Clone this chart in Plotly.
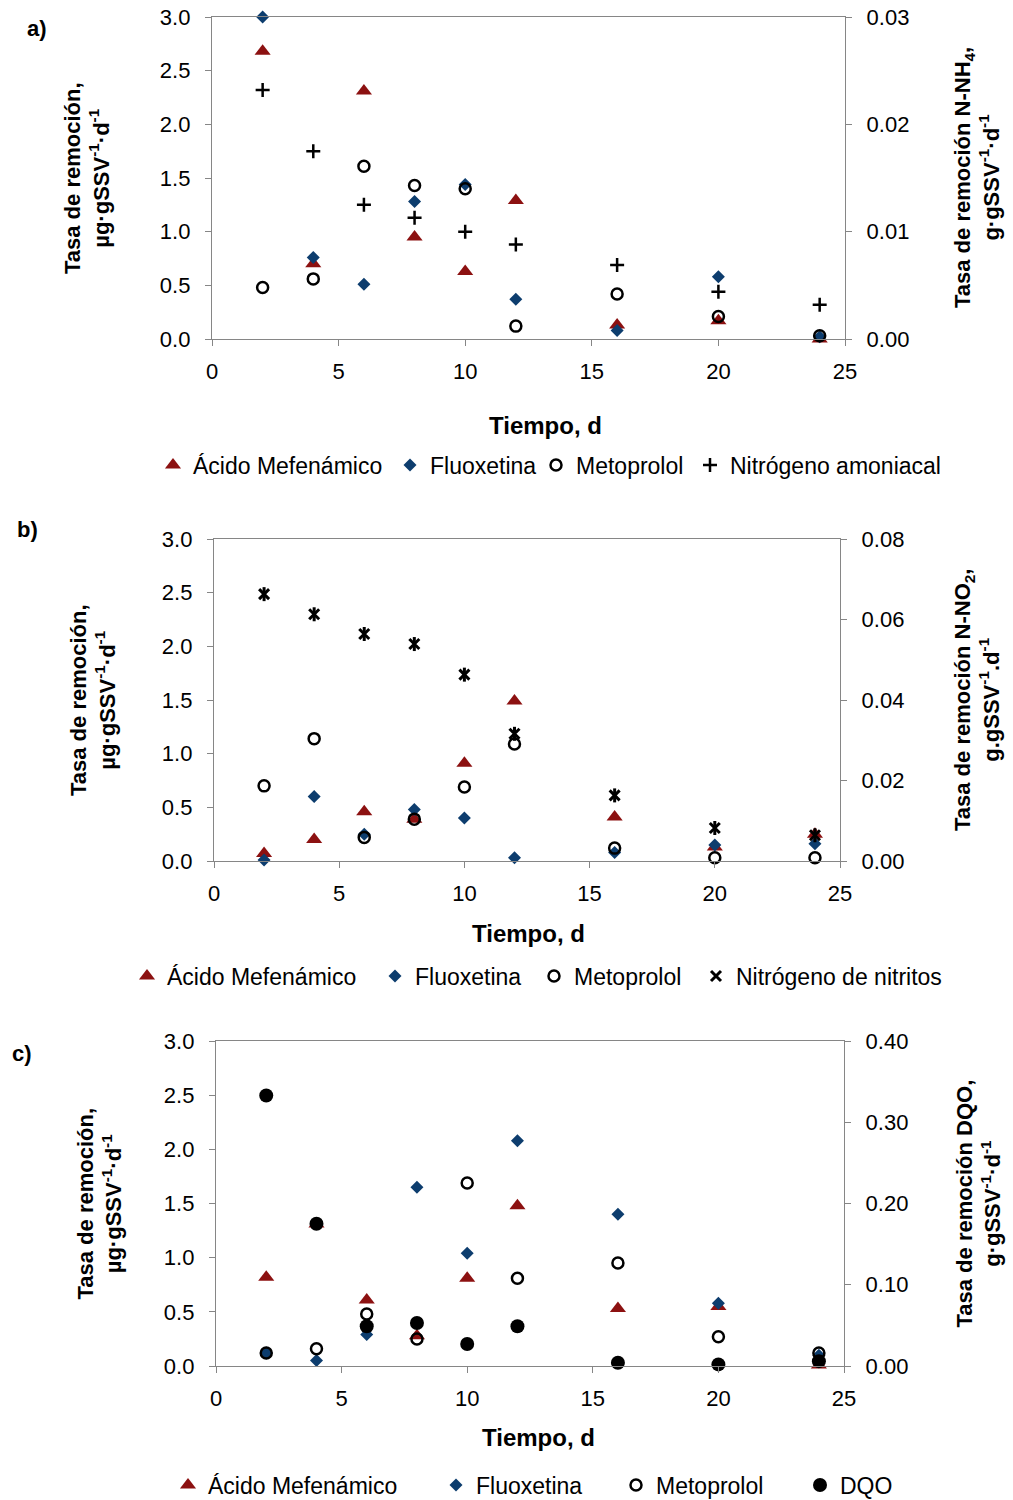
import plotly.graph_objects as go

W, H = 1013, 1500

# ---------------- data ----------------
days = [2, 4, 6, 8, 10, 12, 16, 20, 24]

# panel a
a_mef = [2.68, 0.70, 2.31, 0.95, 0.63, 1.29, 0.13, 0.17, 0.00]
a_flu = [3.00, 0.76, 0.51, 1.28, 1.44, 0.37, 0.08, 0.58, 0.02]
a_met = [0.48, 0.56, 1.61, 1.43, 1.40, 0.12, 0.42, 0.21, 0.03]
a_nh4 = [0.0232, 0.0175, 0.0125, 0.0113, 0.0100, 0.0088, 0.0069, 0.0044, 0.0032]

# panel b
b_mef = [0.07, 0.20, 0.46, 0.39, 0.91, 1.49, 0.41, 0.13, 0.25]
b_flu = [0.01, 0.60, 0.25, 0.48, 0.40, 0.03, 0.08, 0.15, 0.16]
b_met = [0.70, 1.14, 0.22, 0.39, 0.69, 1.09, 0.12, 0.03, 0.03]
b_no2 = [0.0663, 0.0613, 0.0564, 0.0539, 0.0463, 0.0316, 0.0163, 0.0082, 0.0064]

# panel c
c_mef = [0.82, 1.31, 0.61, 0.28, 0.81, 1.48, 0.53, 0.55, 0.01]
c_flu = [0.12, 0.05, 0.29, 1.65, 1.04, 2.08, 1.40, 0.58, 0.10]
c_met = [0.12, 0.16, 0.48, 0.25, 1.69, 0.81, 0.95, 0.27, 0.12]
c_dqo = [0.333, 0.175, 0.049, 0.053, 0.027, 0.049, 0.004, 0.002, 0.006]

left_ticks = [0.0, 0.5, 1.0, 1.5, 2.0, 2.5, 3.0]
x_ticks = [0, 5, 10, 15, 20, 25]

names_a = ["Ácido Mefenámico", "Fluoxetina", "Metoprolol", "Nitrógeno amoniacal"]
names_b = ["Ácido Mefenámico", "Fluoxetina", "Metoprolol", "Nitrógeno de nitritos"]
names_c = ["Ácido Mefenámico", "Fluoxetina", "Metoprolol", "DQO"]

# ---------------- styling / layout geometry ----------------
FONT = "Liberation Sans, Arial, sans-serif"
RED = "#8C1111"
BLUE = "#0D3D6E"
AX = "#868686"


def fx(p):
    return p / W


def fy(p):
    return 1 - p / H


panels = [
    dict(label="a)", lab_xy=(37, 29),
         plot=(212, 845, 17, 339),
         series=[a_mef, a_flu, a_met, a_nh4], names=names_a,
         right_range=[0, 0.03], right_dtick=0.01,
         right_title="Tasa de remoción N-NH<sub>4</sub>,<br>g·gSSV<sup>-1</sup>·d<sup>-1</sup>",
         left_title_x=87, right_title_x=977,
         xtitle_xy=(545, 425), leg_y=465, leg_text=[190, 427, 573, 727]),
    dict(label="b)", lab_xy=(27, 530),
         plot=(214, 840, 539, 861),
         series=[b_mef, b_flu, b_met, b_no2], names=names_b,
         right_range=[0, 0.08], right_dtick=0.02,
         right_title="Tasa de remoción N-NO<sub>2</sub>,<br>g.gSSV<sup>-1</sup>.d<sup>-1</sup>",
         left_title_x=93, right_title_x=977,
         xtitle_xy=(528, 933), leg_y=976, leg_text=[164, 412, 571, 733]),
    dict(label="c)", lab_xy=(22, 1053),
         plot=(216, 844, 1041, 1366),
         series=[c_mef, c_flu, c_met, c_dqo], names=names_c,
         right_range=[0, 0.40], right_dtick=0.10,
         right_title="Tasa de remoción DQO,<br>g·gSSV<sup>-1</sup>·d<sup>-1</sup>",
         left_title_x=99, right_title_x=978,
         xtitle_xy=(538, 1437), leg_y=1485, leg_text=[205, 473, 653, 837]),
]

marker_styles = [
    dict(symbol="triangle-up", size=14, color=RED),
    dict(symbol="diamond", size=10, color=BLUE),
    dict(symbol="circle-open", size=11, color="black", line=dict(width=2.5, color="black")),
]
fourth_styles = [
    dict(symbol="cross-thin-open", size=10, color="black", line=dict(width=2.5, color="black")),
    dict(symbol="x-thin-open", size=10, color="black", line=dict(width=3, color="black")),
    dict(symbol="circle", size=14, color="black"),
]

fig = go.Figure()
layout = dict(
    width=W, height=H,
    margin=dict(l=0, r=0, t=0, b=0, autoexpand=False),
    paper_bgcolor="white", plot_bgcolor="white",
    font=dict(family=FONT, size=22, color="black"),
    annotations=[],
)

leg_idx = 0
for i, p in enumerate(panels):
    xname = "x" if i == 0 else f"x{i + 1}"
    yl = f"y{2 * i + 1}" if i > 0 else "y"
    yr = f"y{2 * i + 2}"
    x0, x1, y0, y1 = p["plot"]
    xdom = [fx(x0), fx(x1)]
    ydom = [fy(y1), fy(y0)]

    xkey = "xaxis" if i == 0 else f"xaxis{i + 1}"
    ylkey = "yaxis" if i == 0 else f"yaxis{2 * i + 1}"
    yrkey = f"yaxis{2 * i + 2}"

    layout[xkey] = dict(
        domain=xdom, anchor=yl, range=[0, 25], tickvals=x_ticks,
        showgrid=False, zeroline=False, showline=True, mirror=True,
        linecolor=AX, linewidth=1.3, ticks="outside", ticklen=6, tickcolor=AX,
        tickfont=dict(size=22, family=FONT), ticklabelstandoff=6,
        ticklabeloverflow="allow",
    )
    layout[ylkey] = dict(
        domain=ydom, anchor=xname, range=[0, 3], tickvals=left_ticks,
        tickformat=".1f", showgrid=False, zeroline=False, showline=True,
        linecolor=AX, linewidth=1.3, ticks="outside", ticklen=6, tickcolor=AX,
        tickfont=dict(size=22, family=FONT), ticklabelstandoff=10,
        ticklabeloverflow="allow",
    )
    rt = []
    v = p["right_range"][0]
    while v <= p["right_range"][1] + 1e-9:
        rt.append(round(v, 4))
        v += p["right_dtick"]
    layout[yrkey] = dict(
        overlaying=yl, side="right", anchor=xname, range=p["right_range"],
        tickvals=rt, tickformat=".2f", showgrid=False, zeroline=False,
        showline=True, linecolor=AX, linewidth=1.3, ticks="outside", ticklen=6,
        tickcolor=AX, tickfont=dict(size=22, family=FONT), ticklabelstandoff=10,
        ticklabeloverflow="allow",
    )

    styles = marker_styles + [fourth_styles[i]]
    for s in range(4):
        leg_idx += 1
        lname = "legend" if leg_idx == 1 else f"legend{leg_idx}"
        yaxis_ref = yl if s < 3 else yr
        fig.add_trace(go.Scatter(
            x=days, y=p["series"][s], mode="markers", name=p["names"][s],
            marker=styles[s], xaxis=xname, yaxis=yaxis_ref, cliponaxis=False,
            legend=lname, showlegend=True,
        ))
        if i == 1 and s == 3:
            fig.add_trace(go.Scatter(
                x=days, y=p["series"][s], mode="markers", showlegend=False,
                marker=dict(symbol="line-ns-open", size=10,
                            line=dict(width=3, color="black"), color="black"),
                xaxis=xname, yaxis=yr, cliponaxis=False, legend=lname,
            ))
        layout[lname] = dict(
            x=fx(p["leg_text"][s] - 37), y=fy(p["leg_y"]),
            xanchor="left", yanchor="middle", orientation="h",
            bgcolor="rgba(0,0,0,0)", borderwidth=0,
            font=dict(size=23, family=FONT, color="black"),
        )

    # annotations
    ann = layout["annotations"]
    ann.append(dict(text=f"<b>{p['label']}</b>", x=fx(p["lab_xy"][0]), y=fy(p["lab_xy"][1]),
                    xref="paper", yref="paper", showarrow=False,
                    xanchor="center", yanchor="middle", font=dict(size=22, family=FONT)))
    ann.append(dict(text="<b>Tiempo, d</b>", x=fx(p["xtitle_xy"][0]), y=fy(p["xtitle_xy"][1]),
                    xref="paper", yref="paper", showarrow=False,
                    xanchor="center", yanchor="middle", font=dict(size=24, family=FONT)))
    ymid = (y0 + y1) / 2
    ann.append(dict(text="<b>Tasa de remoción,<br>µg·gSSV<sup>-1</sup>·d<sup>-1</sup></b>",
                    x=fx(p["left_title_x"]), y=fy(ymid), textangle=-90,
                    xref="paper", yref="paper", showarrow=False,
                    xanchor="center", yanchor="middle", font=dict(size=22, family=FONT)))
    ann.append(dict(text=f"<b>{p['right_title']}</b>",
                    x=fx(p["right_title_x"]), y=fy(ymid), textangle=-90,
                    xref="paper", yref="paper", showarrow=False,
                    xanchor="center", yanchor="middle", font=dict(size=22, family=FONT)))

fig.update_layout(**layout)
# remove the default 8 px page margin so the figure fills the window exactly
fig.write_html("out.html",
               config={"displayModeBar": False},
               post_script="document.body.style.margin='0';document.body.style.overflow='hidden';")
